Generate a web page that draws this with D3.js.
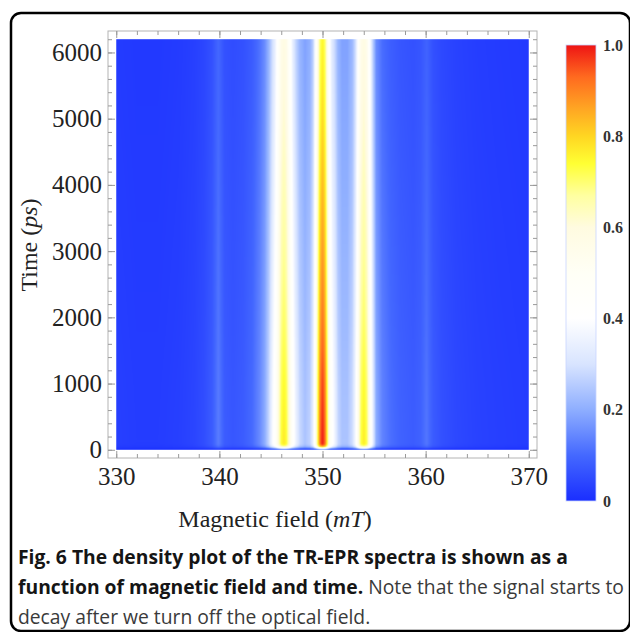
<!DOCTYPE html>
<meta charset='utf-8'>

<style>
  body { margin: 0; background: #fff; }
  svg { display: block; }
  .tick text { font-family: 'Liberation Serif', 'Times New Roman', serif; font-size: 25px; fill: #222; }
  .tick line { stroke: #9a9a9a; }
  .axis-title { font-family: 'Liberation Serif', 'Times New Roman', serif; font-size: 24px; fill: #222; }
  .bar .tick text { font-size: 16px; font-weight: bold; fill: #333; }
  .caption { font-family: 'Open Sans', sans-serif; font-size: 19.3px; }
</style>

<svg width="630" height="632"></svg>

<script src="https://d3js.org/d3.v7.min.js"></script>

<script>

// spectrum (normalised TR-EPR intensity) across the field, at its maximum
var fields = [330, 332, 334, 336, 337.5, 338.5, 339.3, 339.9, 340.5, 341.3, 342.3, 343.2, 343.9, 344.4, 344.8,
  345.1, 345.4, 345.7, 346.0, 346.25, 346.5, 346.8, 347.1, 347.4, 347.8, 348.3, 348.8, 349.1, 349.35, 349.55,
  349.75, 350.0, 350.25, 350.45, 350.65, 350.9, 351.2, 351.5, 351.9, 352.4, 352.9, 353.2, 353.45, 353.7, 354.0,
  354.3, 354.55, 354.85, 355.2, 355.8, 356.6, 357.6, 358.8, 359.5, 360.1, 360.7, 361.6, 363, 365, 367, 370];
var spectrum = [0.03, 0.025, 0.025, 0.03, 0.04, 0.055, 0.08, 0.13, 0.08, 0.07, 0.08, 0.105, 0.15, 0.2, 0.28,
  0.37, 0.45, 0.6, 0.74, 0.77, 0.74, 0.6, 0.45, 0.36, 0.28, 0.24, 0.27, 0.35, 0.55, 0.75,
  0.92, 1.0, 0.92, 0.75, 0.55, 0.43, 0.36, 0.28, 0.24, 0.24, 0.29, 0.38, 0.55, 0.72, 0.77,
  0.72, 0.55, 0.36, 0.2, 0.14, 0.11, 0.09, 0.08, 0.09, 0.12, 0.08, 0.06, 0.045, 0.035, 0.03, 0.025];

// time envelope (ps)
var times = [0, 15, 30, 50, 75, 100, 150, 1000, 2000, 3000, 4000, 5000, 6200];
var amplitude = [0.1, 0.3, 0.6, 0.85, 0.97, 1.0, 1.0, 0.97, 0.92, 0.88, 0.84, 0.8, 0.76];

var xTicks = [330, 340, 350, 360, 370];
var yTicks = [0, 1000, 2000, 3000, 4000, 5000, 6000];
var barTicks = [0, 0.2, 0.4, 0.6, 0.8, 1.0];
var barLabels = ["0", "0.2", "0.4", "0.6", "0.8", "1.0"];

// colour map
var colorValues = [0, 0.1, 0.2, 0.3, 0.4, 0.5, 0.6, 0.67, 0.74, 0.8, 0.86, 0.93, 1.0];
var colorStops = ["#1a2eff", "#4468ff", "#8eaeff", "#d8e4ff", "#ffffff", "#fffff6", "#fffbe0",
  "#ffffa0", "#ffff33", "#ffd622", "#ffa623", "#ff6a1f", "#ee1414"];

var svg = d3.select("svg");

var x = d3.scaleLinear().domain([329.2, 370.8]).range([108, 537]);
var y = d3.scaleLinear().domain([-124, 6324]).range([458, 31]);
var cb = d3.scaleLinear().domain([0, 1]).range([501, 45]);
var color = d3.scaleLinear().domain(colorValues).range(colorStops).interpolate(d3.interpolateRgb).clamp(true);
var spec = d3.scaleLinear().domain(fields).range(spectrum).clamp(true);
var amp = d3.scaleLinear().domain(times).range(amplitude).clamp(true);

// outer box
svg.append("rect")
  .attr("x", 11).attr("y", 13)
  .attr("width", 619).attr("height", 618)
  .attr("rx", 10)
  .attr("fill", "none")
  .attr("stroke", "#000")
  .attr("stroke-width", 2.5);

// density image
var x0 = x(330), x1 = x(370), yT = y(6200), yB = y(0);
var cw = Math.round(x1 - x0), ch = Math.round(yB - yT);
var canvas = document.createElement("canvas");
canvas.width = cw; canvas.height = ch;
var ctx = canvas.getContext("2d");
var img = ctx.createImageData(cw, ch);
var colS = d3.range(cw).map(function(i) { return spec(x.invert(x0 + (i + 0.5) * (x1 - x0) / cw)); });
for (var j = 0; j < ch; j++) {
  var a = amp(y.invert(yT + (j + 0.5) * (yB - yT) / ch));
  for (var i = 0; i < cw; i++) {
    var c = d3.rgb(color(colS[i] * a));
    var k = (j * cw + i) * 4;
    img.data[k] = c.r; img.data[k + 1] = c.g; img.data[k + 2] = c.b; img.data[k + 3] = 255;
  }
}
ctx.putImageData(img, 0, 0);

svg.append("image")
  .attr("x", x0).attr("y", yT)
  .attr("width", x1 - x0).attr("height", yB - yT)
  .attr("preserveAspectRatio", "none")
  .attr("href", canvas.toDataURL());

// frame
svg.append("rect")
  .attr("x", 108).attr("y", 31)
  .attr("width", 537 - 108).attr("height", 458 - 31)
  .attr("fill", "none")
  .attr("stroke", "#b4b4b4");

var xMinor = d3.range(330, 371, 2), yMinor = d3.range(0, 6201, 200);

function ticksOnly(axis, tr, vals, size) {
  var g = svg.append("g").attr("transform", tr)
    .call(axis.tickValues(vals).tickSize(size).tickFormat(""));
  g.select(".domain").remove();
  return g;
}

// minor + major ticks, all four sides
ticksOnly(d3.axisBottom(x), "translate(0,458)", xMinor, -4);
ticksOnly(d3.axisTop(x), "translate(0,31)", xMinor, -4);
ticksOnly(d3.axisLeft(y), "translate(108,0)", yMinor, -4);
ticksOnly(d3.axisRight(y), "translate(537,0)", yMinor, -4);
ticksOnly(d3.axisTop(x), "translate(0,31)", xTicks, -7);
ticksOnly(d3.axisRight(y), "translate(537,0)", yTicks, -7);

var gx = svg.append("g").attr("transform", "translate(0,458)")
  .call(d3.axisBottom(x).tickValues(xTicks).tickSize(-7).tickPadding(9));
gx.select(".domain").remove();

var gy = svg.append("g").attr("transform", "translate(108,0)")
  .call(d3.axisLeft(y).tickValues(yTicks).tickSize(-7).tickPadding(6).tickFormat(d3.format("d")));
gy.select(".domain").remove();

// axis titles
var xt = svg.append("text").attr("class", "axis-title")
  .attr("x", 275).attr("y", 527).attr("text-anchor", "middle");
xt.append("tspan").text("Magnetic field (");
xt.append("tspan").attr("font-style", "italic").text("mT");
xt.append("tspan").text(")");

var yt = svg.append("text").attr("class", "axis-title")
  .attr("transform", "translate(37,245) rotate(-90)").attr("text-anchor", "middle");
yt.append("tspan").text("Time (");
yt.append("tspan").attr("font-style", "italic").text("ps");
yt.append("tspan").text(")");

// colour bar
var grad = svg.append("defs").append("linearGradient")
  .attr("id", "bar").attr("x1", 0).attr("y1", 1).attr("x2", 0).attr("y2", 0);
grad.selectAll("stop").data(colorValues).enter().append("stop")
  .attr("offset", function(d) { return d; })
  .attr("stop-color", function(d, i) { return colorStops[i]; });

svg.append("rect")
  .attr("x", 566).attr("y", cb(1))
  .attr("width", 30).attr("height", cb(0) - cb(1))
  .attr("fill", "url(#bar)")
  .attr("stroke", "#c8d4ff").attr("stroke-width", 0.8);

var gb = svg.append("g").attr("class", "bar").attr("transform", "translate(596,0)")
  .call(d3.axisRight(cb).tickValues(barTicks).tickSize(0).tickPadding(7)
    .tickFormat(function(d, i) { return barLabels[i]; }));
gb.select(".domain").remove();

// caption
var cap = svg.append("g").attr("class", "caption");
cap.append("text").attr("x", 18).attr("y", 564)
  .attr("font-weight", "bold").attr("fill", "#151515")
  .text("Fig. 6 The density plot of the TR-EPR spectra is shown as a");
var l2 = cap.append("text").attr("x", 18).attr("y", 594);
l2.append("tspan").attr("font-weight", "bold").attr("fill", "#151515")
  .text("function of magnetic field and time.");
l2.append("tspan").attr("fill", "#3a3a3a").text(" Note that the signal starts to");
cap.append("text").attr("x", 18).attr("y", 624).attr("fill", "#3a3a3a")
  .text("decay after we turn off the optical field.");

</script>
